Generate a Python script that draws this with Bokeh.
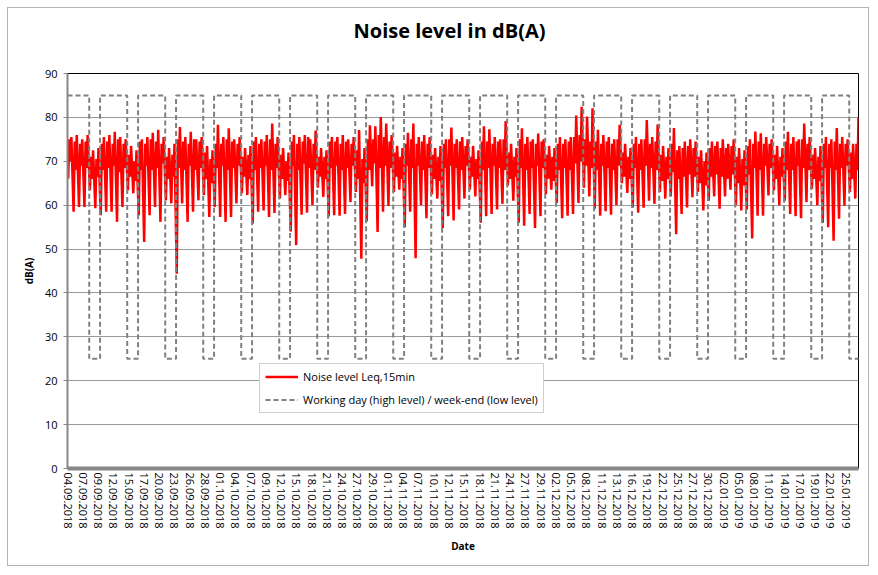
import datetime as dt
from bokeh.plotting import figure
from bokeh.models import FixedTicker, Range1d, Legend, LegendItem, Title
from bokeh.embed import file_html
from bokeh.resources import INLINE

# ---------------- data ----------------
START_DATE = dt.date(2018, 9, 4)

# one row per week (Tue .. Mon); values in dB(A)
NIGHT_MIN = [
    66.0, 58.5, 59.6, 59.6, 63.4, 59.3, 57.7,
    58.5, 58.5, 56.2, 59.6, 63.4, 62.7, 57.7,
    51.6, 57.7, 59.6, 56.2, 61.1, 60.4, 44.4,
    60.4, 56.2, 58.5, 61.1, 62.3, 57.3, 59.6,
    57.3, 56.2, 57.3, 60.4, 62.7, 62.3, 55.8,
    58.5, 58.8, 57.3, 58.2, 61.5, 62.3, 54.0,
    50.9, 57.8, 58.3, 60.0, 64.0, 61.9, 57.4,
    57.7, 57.6, 58.0, 60.7, 63.0, 47.8, 56.3,
    64.3, 53.9, 58.5, 59.8, 63.0, 63.5, 55.0,
    58.5, 47.9, 60.0, 57.0, 62.5, 61.5, 54.8,
    57.5, 56.5, 59.0, 61.5, 63.5, 62.0, 56.0,
    57.5, 58.0, 59.0, 60.3, 64.5, 61.0, 56.0,
    55.3, 58.0, 54.8, 57.5, 62.5, 63.5, 60.5,
    57.0, 57.6, 58.0, 60.5, 64.0, 62.0, 59.2,
    57.6, 58.6, 57.8, 60.0, 65.0, 62.8, 59.5,
    58.3, 59.4, 61.0, 60.3, 63.0, 61.5, 62.0,
    53.4, 58.0, 59.5, 61.8, 63.0, 58.8, 61.0,
    62.0, 59.2, 62.0, 63.5, 60.0, 58.8, 59.0,
    52.4, 57.6, 57.6, 62.2, 63.4, 60.0, 61.0,
    58.0, 57.5, 57.0, 60.7, 63.7, 60.0, 56.0,
    55.0, 51.9, 56.9, 59.9, 63.0, 61.5,
]
MORNING = [
    75.0, 74.5, 74.0, 74.5, 71.0, 70.5, 74.0,
    74.5, 74.0, 75.0, 74.0, 71.5, 70.0, 74.5,
    74.0, 75.0, 74.5, 74.0, 71.0, 71.5, 75.0,
    74.5, 74.0, 75.0, 74.5, 72.0, 70.5, 74.0,
    74.0, 75.0, 74.5, 74.0, 71.0, 71.5, 74.5,
    74.0, 74.5, 75.0, 74.0, 71.5, 70.0, 74.5,
    74.0, 74.5, 75.5, 74.0, 71.0, 71.0, 74.5,
    74.5, 74.0, 74.5, 74.0, 72.5, 70.5, 75.0,
    75.0, 76.0, 75.5, 74.5, 72.0, 71.0, 74.0,
    75.0, 74.0, 74.5, 74.0, 71.5, 71.0, 74.0,
    75.0, 74.0, 74.5, 73.5, 71.0, 70.5, 74.5,
    74.5, 74.0, 74.5, 75.0, 72.0, 71.0, 75.0,
    74.0, 74.5, 74.0, 74.5, 71.5, 71.0, 74.0,
    74.0, 74.5, 75.5, 76.0, 75.0, 74.5, 74.5,
    74.0, 74.5, 74.0, 75.0, 72.0, 71.0, 74.0,
    74.0, 75.0, 74.0, 74.5, 71.5, 71.0, 74.0,
    72.5, 73.0, 73.5, 73.0, 71.0, 70.0, 73.0,
    73.5, 73.0, 73.0, 73.5, 71.0, 70.5, 73.5,
    74.0, 74.5, 74.0, 74.0, 71.5, 71.0, 74.5,
    74.0, 74.5, 75.0, 74.0, 71.5, 71.0, 74.0,
    74.0, 74.5, 74.0, 74.0, 72.0, 74.0,
]
MIDDAY = [
    70.0, 68.0, 69.0, 68.5, 66.0, 66.5, 68.0,
    68.5, 69.0, 67.5, 68.5, 66.5, 65.5, 68.0,
    69.0, 68.0, 68.5, 69.5, 66.0, 66.5, 68.5,
    68.0, 69.0, 68.0, 68.5, 66.0, 65.0, 68.5,
    69.0, 68.0, 68.5, 69.0, 66.5, 66.0, 68.0,
    68.5, 69.0, 68.0, 68.5, 66.0, 65.5, 69.0,
    68.0, 69.5, 68.5, 68.0, 66.5, 66.0, 68.5,
    69.0, 68.0, 68.5, 69.0, 66.0, 65.0, 68.0,
    69.5, 68.5, 69.0, 68.5, 66.5, 66.0, 69.0,
    68.5, 69.0, 68.0, 68.5, 66.0, 65.5, 68.5,
    69.0, 68.5, 68.0, 69.0, 66.5, 66.0, 68.0,
    68.5, 69.0, 68.5, 68.0, 66.0, 66.5, 68.5,
    68.0, 68.5, 69.0, 68.5, 66.0, 65.5, 68.0,
    68.5, 68.0, 69.5, 70.0, 69.0, 68.5, 68.0,
    69.0, 68.5, 68.0, 69.0, 66.5, 66.0, 68.5,
    68.0, 69.0, 68.5, 68.0, 65.5, 66.0, 67.5,
    66.0, 66.5, 67.0, 66.5, 65.0, 64.5, 66.5,
    67.0, 66.5, 66.0, 67.0, 65.0, 64.5, 67.0,
    68.5, 68.0, 69.0, 68.5, 66.0, 66.5, 68.0,
    68.0, 69.0, 68.5, 68.0, 66.0, 65.5, 68.5,
    68.5, 68.0, 68.5, 69.0, 66.0, 68.0,
]
DAY_MAX = [
    75.5, 76.0, 75.0, 76.0, 72.5, 73.0, 75.5,
    76.0, 76.7, 75.5, 75.0, 73.5, 72.5, 75.0,
    75.5, 76.5, 77.2, 75.5, 73.0, 74.0, 77.8,
    75.5, 76.7, 75.0, 75.5, 73.5, 72.5, 78.3,
    75.5, 77.5, 75.0, 75.5, 73.0, 73.5, 75.5,
    75.0, 76.0, 78.6, 75.5, 73.0, 72.0, 76.0,
    75.5, 76.0, 75.0, 77.0, 73.0, 72.5, 75.5,
    75.5, 76.0, 75.0, 75.5, 77.1, 73.0, 78.2,
    78.0, 80.1, 78.6, 76.0, 73.5, 73.0, 76.5,
    78.6, 75.5, 76.0, 75.5, 73.0, 73.5, 75.0,
    77.7, 75.0, 75.5, 75.0, 73.5, 72.5, 78.0,
    77.3, 75.5, 75.0, 79.2, 74.0, 73.0, 77.5,
    75.5, 75.0, 76.3, 75.0, 73.5, 73.0, 75.5,
    75.0, 75.5, 80.4, 82.4, 80.2, 82.1, 77.2,
    76.0, 75.5, 75.0, 78.3, 74.0, 73.0, 75.5,
    75.0, 79.4, 75.5, 78.4, 73.5, 73.0, 77.6,
    73.5, 74.5, 75.0, 74.5, 72.5, 72.0, 74.5,
    74.5, 75.0, 74.0, 75.0, 73.0, 72.5, 75.0,
    76.8, 76.4, 75.5, 75.0, 73.5, 73.0, 76.7,
    75.5, 75.0, 78.6, 75.5, 73.0, 73.5, 75.5,
    75.0, 77.6, 75.5, 75.0, 74.0, 80.0,
]
SAMPLE_HOURS = [3, 8, 13, 17]          # time of day of each daily reading

HIGH_LEVEL = 85                        # working day
LOW_LEVEL = 25                         # week-end

TICK_LABELS = [
    "04.09.2018", "07.09.2018", "09.09.2018", "12.09.2018", "15.09.2018",
    "17.09.2018", "20.09.2018", "23.09.2018", "26.09.2018", "28.09.2018",
    "01.10.2018", "04.10.2018", "07.10.2018", "09.10.2018", "12.10.2018",
    "15.10.2018", "18.10.2018", "21.10.2018", "24.10.2018", "27.10.2018",
    "29.10.2018", "01.11.2018", "04.11.2018", "07.11.2018", "10.11.2018",
    "12.11.2018", "15.11.2018", "18.11.2018", "21.11.2018", "24.11.2018",
    "27.11.2018", "29.11.2018", "02.12.2018", "05.12.2018", "08.12.2018",
    "11.12.2018", "13.12.2018", "16.12.2018", "19.12.2018", "22.12.2018",
    "25.12.2018", "27.12.2018", "30.12.2018", "02.01.2019", "05.01.2019",
    "08.01.2019", "11.01.2019", "14.01.2019", "17.01.2019", "19.01.2019",
    "22.01.2019", "25.01.2019",
]
TICK_STEP_DAYS = 2.811                 # category-axis label interval
Y_TICKS = list(range(0, 100, 10))
TITLE = "Noise level in dB(A)"

# ---------------- build series ----------------
n_days = len(NIGHT_MIN)
xs, ys = [], []
for k in range(n_days):
    for h, ser in zip(SAMPLE_HOURS, (NIGHT_MIN, MORNING, MIDDAY, DAY_MAX)):
        xs.append(k + h / 24.0)
        ys.append(ser[k])

wx, wy = [], []
for k in range(n_days + 1):
    d = START_DATE + dt.timedelta(days=k)
    wx.append(k)
    wy.append(LOW_LEVEL if d.weekday() >= 5 else HIGH_LEVEL)

FONT = "Open Sans"

p = figure(width=862, height=559, output_backend="svg", toolbar_location=None,
           x_range=Range1d(0, xs[-1]), y_range=Range1d(0, 90),
           min_border_left=59, min_border_right=12, min_border_top=65,
           min_border_bottom=99)
p.styles = {"border": "1px solid #b4b4b4", "margin": "7px"}

# default (empty) title takes no room; a thin spacer title then the real title
p.title.text = ""
p.title.standoff = 0
p.add_layout(Title(text=" ", text_font_size="1px", standoff=27), "above")
p.add_layout(Title(text=TITLE, text_font=FONT, text_font_size="20px",
                   text_font_style="bold", text_color="black", align="left",
                   offset=286, standoff=0), "above")

r_red = p.line(xs, ys, line_color="#FF0000", line_width=2.5)
r_dash = p.step(wx, wy, mode="after", line_color="#808080", line_width=2,
                line_dash="5 3")

# axes
ticks = [i * TICK_STEP_DAYS for i in range(len(TICK_LABELS))]
p.xaxis.ticker = FixedTicker(ticks=ticks)
p.xaxis.major_label_overrides = {t: lab for t, lab in zip(ticks, TICK_LABELS)}
p.xaxis.major_label_orientation = "vertical"
p.xaxis.major_label_text_font = FONT
p.xaxis.major_label_text_font_size = "11px"
p.xaxis.major_label_text_color = "black"
p.xaxis.major_label_standoff = 4
p.xaxis.major_tick_out = 0
p.xaxis.major_tick_in = 0
p.xaxis.minor_tick_line_color = None
p.xaxis.axis_line_color = "#878787"
p.xaxis.axis_line_width = 4
p.xaxis.axis_label = "Date"
p.xaxis.axis_label_text_font = FONT
p.xaxis.axis_label_text_font_size = "10px"
p.xaxis.axis_label_text_font_style = "bold"
p.xaxis.axis_label_text_color = "black"
p.xaxis.axis_label_standoff = 7

p.yaxis.ticker = FixedTicker(ticks=Y_TICKS)
p.yaxis.major_label_text_font = FONT
p.yaxis.major_label_text_font_size = "11px"
p.yaxis.major_label_text_color = "black"
p.yaxis.major_tick_out = 4
p.yaxis.major_tick_in = 0
p.yaxis.major_tick_line_color = "#878787"
p.yaxis.minor_tick_line_color = None
p.yaxis.axis_line_color = "#878787"
p.yaxis.axis_line_width = 2
p.yaxis.major_label_standoff = 6
p.yaxis.axis_label = "dB(A)"
p.yaxis.axis_label_text_font = FONT
p.yaxis.axis_label_text_font_size = "10px"
p.yaxis.axis_label_text_font_style = "bold"
p.yaxis.axis_label_text_color = "black"
p.yaxis.axis_label_standoff = 6

p.xgrid.grid_line_color = None
p.ygrid.grid_line_color = "#9a9a9a"
p.ygrid.grid_line_width = 1

p.outline_line_color = "black"
p.outline_line_width = 1
p.background_fill_color = "white"
p.border_fill_color = "white"

legend = Legend(items=[
    LegendItem(label="Noise level Leq,15min", renderers=[r_red]),
    LegendItem(label="Working day (high level) / week-end (low level)", renderers=[r_dash]),
], location=(192, 55))
legend.label_text_font = FONT
legend.label_text_font_size = "11px"
legend.label_text_color = "black"
legend.glyph_width = 33
legend.glyph_height = 15
legend.label_height = 15
legend.label_standoff = 5
legend.spacing = 8
legend.padding = 5
legend.margin = 0
legend.border_line_color = "#a0a0a0"
legend.border_line_width = 1
legend.background_fill_color = "white"
legend.background_fill_alpha = 1.0
p.add_layout(legend)

open("out.html", "w").write(file_html(p, INLINE))
